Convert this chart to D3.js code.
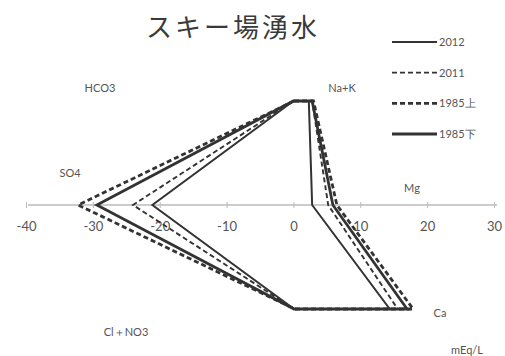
<!DOCTYPE html>
<html>
<head>
<meta charset="utf-8">
<script src="https://cdn.jsdelivr.net/npm/d3@7"></script>
<style>
  html, body { margin: 0; padding: 0; background: #fff; }
  svg { display: block; }
</style>
</head>
<body>
<svg id="chart" width="505" height="356"></svg>
<script>
// Stiff diagram of the ski-slope spring water (mEq/L)
const title = "スキー場湧水";
const ions = ["HCO3", "Na+K", "Mg", "Ca", "Cl＋NO3", "SO4"];
// row of each ion: 1 = top, 0 = middle, -1 = bottom
const ionRow = [1, 1, 0, -1, -1, 0];
const seriesNames = ["2012", "2011", "1985上", "1985下"];
// anions negative (left), cations positive (right), in polygon order
const v2012   = [0.0, 2.3, 2.8, 14.4, 0.1, -21.1];
const v2011   = [0.0, 2.8, 5.2, 15.6, 0.1, -24.0];
const v1985up = [0.1, 3.0, 6.5, 17.9, 0.2, -32.2];
const v1985lo = [0.0, 2.8, 5.9, 17.0, 0.1, -29.4];
const xTicks = [-40, -30, -20, -10, 0, 10, 20, 30];

const seriesValues = [v2012, v2011, v1985up, v1985lo];
const seriesStyle = [
  { w: 2.0, dash: null },
  { w: 1.9, dash: "5,3" },
  { w: 2.8, dash: "5,3" },
  { w: 2.8, dash: null }
];

const svg = d3.select("#chart");
const x = d3.scaleLinear().domain([-40, 30]).range([26, 494]);
const y = d3.scaleLinear().domain([-1, 1]).range([309, 101]);
const ink = "#333";
const textCol = "#555";
const font = "Lato, 'Open Sans', sans-serif";

// title
svg.append("text")
  .attr("x", 233).attr("y", 37)
  .attr("text-anchor", "middle")
  .attr("font-family", "'Noto Sans CJK JP', sans-serif")
  .attr("font-size", 26).attr("letter-spacing", 3)
  .attr("fill", "#3a3a3a")
  .text(title);

// horizontal axis through the middle row
const axis = d3.axisBottom(x).tickValues(xTicks).tickSize(0)
  .tickFormat(d3.format("d"));
const gAxis = svg.append("g").attr("transform", `translate(0,${y(0)})`).call(axis);
gAxis.select(".domain").attr("stroke", "#999").attr("stroke-width", 1.2)
  .attr("d", `M${x(-40) + 2},0H${x(30) + 3}`);
gAxis.selectAll(".tick line").remove();
gAxis.selectAll(".tick").append("line")
  .attr("y1", -3).attr("y2", 3).attr("stroke", "#bbb");
gAxis.selectAll(".tick text")
  .attr("y", 22).attr("dy", "0.32em")
  .attr("font-family", font).attr("font-size", 13).attr("fill", textCol);
gAxis.selectAll(".tick text").text(d => (d < 0 ? "-" + Math.abs(d) : d));

// ion labels
const ionLabels = [
  { t: "HCO3", x: 100, y: 88 },
  { t: "Na+K", x: 342, y: 88 },
  { t: "SO4", x: 70, y: 173 },
  { t: "Mg", x: 412, y: 188 },
  { t: "Cl＋NO3", x: 126, y: 332 },
  { t: "Ca", x: 440, y: 313 },
  { t: "mEq/L", x: 467, y: 350 }
];
svg.append("g").selectAll("text").data(ionLabels).join("text")
  .attr("x", d => d.x).attr("y", d => d.y)
  .attr("dy", "0.35em").attr("text-anchor", "middle")
  .attr("font-family", font).attr("font-size", 11).attr("fill", textCol)
  .text(d => d.t);

// polygons
const line = d3.line()
  .x(d => x(d.v)).y(d => y(d.r))
  .curve(d3.curveLinearClosed);
const drawOrder = [3, 2, 1, 0];
svg.append("g").selectAll("path").data(drawOrder).join("path")
  .attr("d", i => line(seriesValues[i].map((v, k) => ({ v: v, r: ionRow[k] }))))
  .attr("fill", "none")
  .attr("stroke", ink)
  .attr("stroke-linejoin", "miter")
  .attr("stroke-width", i => seriesStyle[i].w)
  .attr("stroke-dasharray", i => seriesStyle[i].dash);

// legend
const legY = d3.scalePoint().domain(seriesNames).range([42, 134]);
const leg = svg.append("g").selectAll("g").data(seriesNames).join("g")
  .attr("transform", d => `translate(0,${legY(d)})`);
leg.append("line")
  .attr("x1", 392).attr("x2", 437)
  .attr("stroke", ink)
  .attr("stroke-width", (d, i) => seriesStyle[i].w)
  .attr("stroke-dasharray", (d, i) => seriesStyle[i].dash);
leg.append("text")
  .attr("x", 439).attr("dy", "0.35em")
  .attr("font-family", font).attr("font-size", 11).attr("fill", textCol)
  .text(d => d);
</script>
</body>
</html>
